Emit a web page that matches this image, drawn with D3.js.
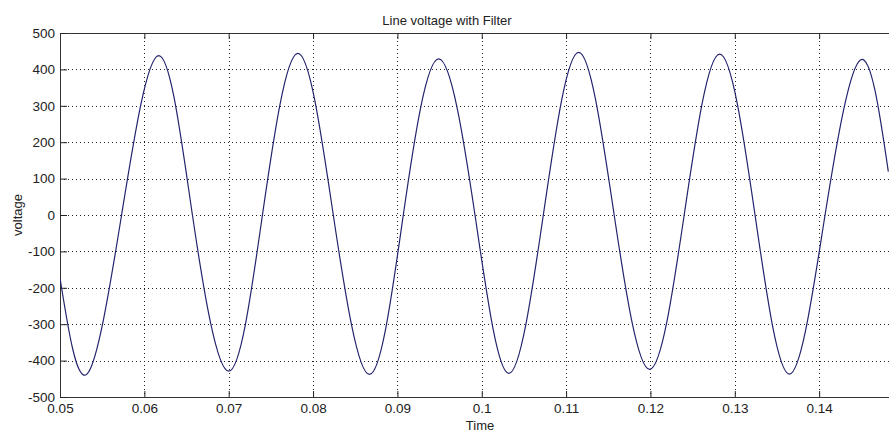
<!DOCTYPE html>
<html>
<head>
<meta charset="utf-8">
<script src="https://cdn.jsdelivr.net/npm/d3@7"></script>
<style>
html,body{margin:0;padding:0;background:#fff;}
svg{display:block;}
text{font-family:"Liberation Sans",Arial,Helvetica,sans-serif;fill:#222;}
</style>
</head>
<body>
<svg id="chart" width="889" height="432"></svg>
<script>
// Data: extremes and zero crossings of the filtered line voltage
const timePts = [0.0500, 0.0532, 0.0573, 0.0617, 0.0657, 0.0700, 0.0740, 0.0782, 0.0824,
                 0.0867, 0.0907, 0.0949, 0.0992, 0.1032, 0.1073, 0.1115, 0.1157, 0.1199,
                 0.1240, 0.1282, 0.1324, 0.1365, 0.1407, 0.1449, 0.1482];
const voltagePts = [-173, -437, 0, 438, 0, -429, 0, 444, 0,
                    -438, 0, 429, 0, -435, 0, 447, 0, -424,
                    0, 442, 0, -437, 0, 426, 119];
const xTicks = [0.05, 0.06, 0.07, 0.08, 0.09, 0.1, 0.11, 0.12, 0.13, 0.14];
const yTicks = [-500, -400, -300, -200, -100, 0, 100, 200, 300, 400, 500];
const titleText = "Line voltage with Filter";
const xLabel = "Time";
const yLabel = "voltage";

(function(){
const svg = d3.select("#chart");
const W = 889, H = 432;
const mLeft = 60, mTop = 33, mBottom = 397, mRight = 903.5;

const x = d3.scaleLinear().domain([0.05, 0.15]).range([mLeft, mRight]);
const y = d3.scaleLinear().domain([-500, 500]).range([mBottom, mTop]);

const data = timePts.map((t, i) => ({t, v: voltagePts[i]}));

svg.append("rect").attr("width", W).attr("height", H).attr("fill", "#fff");

svg.append("defs").append("clipPath").attr("id", "clip")
  .append("rect").attr("x", mLeft).attr("y", mTop).attr("width", mRight - mLeft).attr("height", mBottom - mTop);

// grid
const grid = svg.append("g").attr("stroke", "#222").attr("stroke-width", 1).attr("stroke-dasharray", "1,3");
grid.selectAll(".gx").data(xTicks.slice(1)).join("line")
  .attr("x1", d => Math.round(x(d)) + 0.5).attr("x2", d => Math.round(x(d)) + 0.5)
  .attr("y1", mTop).attr("y2", mBottom);
grid.selectAll(".gy").data(yTicks.slice(1, -1)).join("line")
  .attr("x1", mLeft).attr("x2", mRight)
  .attr("y1", d => Math.round(y(d)) + 0.5).attr("y2", d => Math.round(y(d)) + 0.5);

// axes
const fmtX = d => String(+d.toFixed(2));
const fmtY = d => String(d);
const xAxisB = d3.axisBottom(x).tickValues(xTicks).tickSizeInner(-6).tickSizeOuter(0).tickPadding(6).tickFormat(fmtX);
const xAxisT = d3.axisTop(x).tickValues(xTicks).tickSizeInner(-6).tickSizeOuter(0).tickFormat("");
const yAxisL = d3.axisLeft(y).tickValues(yTicks).tickSizeInner(-7).tickSizeOuter(0).tickPadding(5).tickFormat(fmtY);

function style(g){
  g.select(".domain").attr("stroke", "#333").attr("stroke-width", 1);
  g.selectAll(".tick line").attr("stroke", "#222");
  g.selectAll(".tick text").attr("font-size", 13.5).attr("fill", "#222")
    .attr("font-family", "'Liberation Sans',Arial,Helvetica,sans-serif");
}
svg.append("g").attr("transform", `translate(0,${mBottom})`).call(xAxisB).call(style);
svg.append("g").attr("transform", `translate(0,${mTop})`).call(xAxisT).call(style);
svg.append("g").attr("transform", `translate(${mLeft},0)`).call(yAxisL).call(style);

// curve
const line = d3.line().x(d => x(d.t)).y(d => y(d.v)).curve(d3.curveNatural);
svg.append("path").datum(data).attr("clip-path", "url(#clip)")
  .attr("d", line).attr("fill", "none").attr("stroke", "#24246e").attr("stroke-width", 1.2);

// labels
svg.append("text").attr("x", 447).attr("y", 25).attr("text-anchor", "middle")
  .attr("font-size", 13).text(titleText);
svg.append("text").attr("x", 480).attr("y", 430).attr("text-anchor", "middle")
  .attr("font-size", 13).text(xLabel);
svg.append("text").attr("transform", "translate(22,215) rotate(-90)").attr("text-anchor", "middle")
  .attr("font-size", 13).text(yLabel);
})();
</script>
</body>
</html>
